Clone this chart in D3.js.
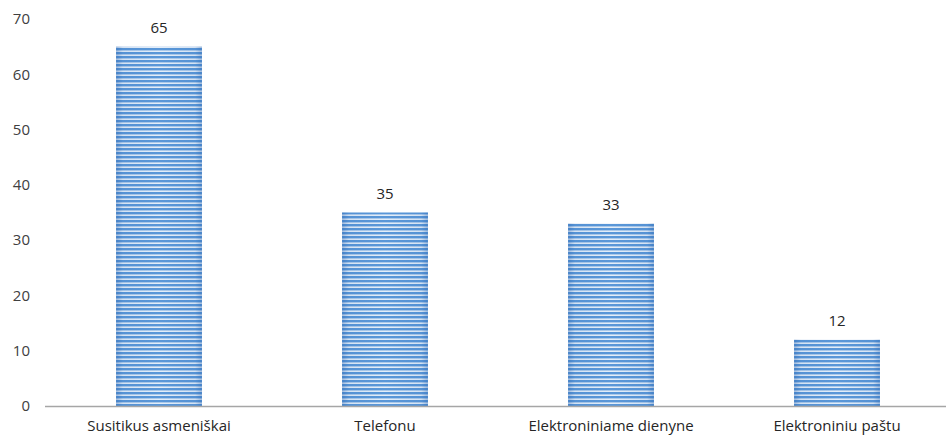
<!DOCTYPE html>
<html><head><meta charset="utf-8">
<script src="https://cdn.jsdelivr.net/npm/d3@7"></script>
<style>body{margin:0;background:#fff}svg{display:block}text{font-family:"Open Sans","DejaVu Sans",sans-serif}</style>
</head><body>
<script>
const categories = ["Susitikus asmeniškai", "Telefonu", "Elektroniniame dienyne", "Elektroniniu paštu"];
const values = [65, 35, 33, 12];
const yTicks = [0, 10, 20, 30, 40, 50, 60, 70];

const W = 946, H = 438;
const svg = d3.select("body").append("svg").attr("width", W).attr("height", H);
const defs = svg.append("defs");

const pat = defs.append("pattern").attr("id", "stripes").attr("patternUnits", "userSpaceOnUse")
  .attr("width", 8).attr("height", 4);
pat.append("rect").attr("width", 8).attr("height", 4).attr("fill", "#e4eef9");
pat.append("rect").attr("y", 0).attr("width", 8).attr("height", 2.4).attr("fill", "#5a97d8");

const grad = defs.append("linearGradient").attr("id", "edge").attr("x1", 0).attr("x2", 1).attr("y1", 0).attr("y2", 0);
[[0, 0.35], [0.08, 0.08], [0.5, 0], [0.92, 0.08], [1, 0.35]].forEach(([o, a]) =>
  grad.append("stop").attr("offset", o).attr("stop-color", "#1f5aa8").attr("stop-opacity", a));

const x = d3.scaleBand().domain(categories).range([46, 950]).paddingInner(0.62).paddingOuter(0.31);
const y = d3.scaleLinear().domain([0, 70]).range([406, 19]);

// y tick labels
svg.append("g").selectAll("text").data(yTicks).join("text")
  .attr("x", 30).attr("y", d => y(d)).attr("dy", "0.35em").attr("text-anchor", "end")
  .attr("font-size", 15).attr("fill", "#404040").text(d => d);

// bars
const bars = svg.append("g").selectAll("g").data(values).join("g");
bars.append("rect").attr("x", (d, i) => x(categories[i])).attr("width", x.bandwidth())
  .attr("y", d => y(d)).attr("height", d => y(0) - y(d)).attr("fill", "url(#stripes)");
bars.append("rect").attr("x", (d, i) => x(categories[i])).attr("width", x.bandwidth())
  .attr("y", d => y(d)).attr("height", d => y(0) - y(d)).attr("fill", "url(#edge)");

// value labels
svg.append("g").selectAll("text").data(values).join("text")
  .attr("x", (d, i) => x(categories[i]) + x.bandwidth() / 2).attr("y", d => y(d) - 14)
  .attr("text-anchor", "middle").attr("font-size", 15).attr("fill", "#262626").text(d => d);

// x axis line
svg.append("line").attr("x1", 45).attr("x2", W).attr("y1", y(0) + 0.5).attr("y2", y(0) + 0.5)
  .attr("stroke", "#a6a6a6").attr("stroke-width", 1.5);

// category labels
svg.append("g").selectAll("text").data(categories).join("text")
  .attr("x", d => x(d) + x.bandwidth() / 2).attr("y", 431)
  .attr("text-anchor", "middle").attr("font-size", 15).attr("fill", "#262626").text(d => d);
</script>
</body></html>
